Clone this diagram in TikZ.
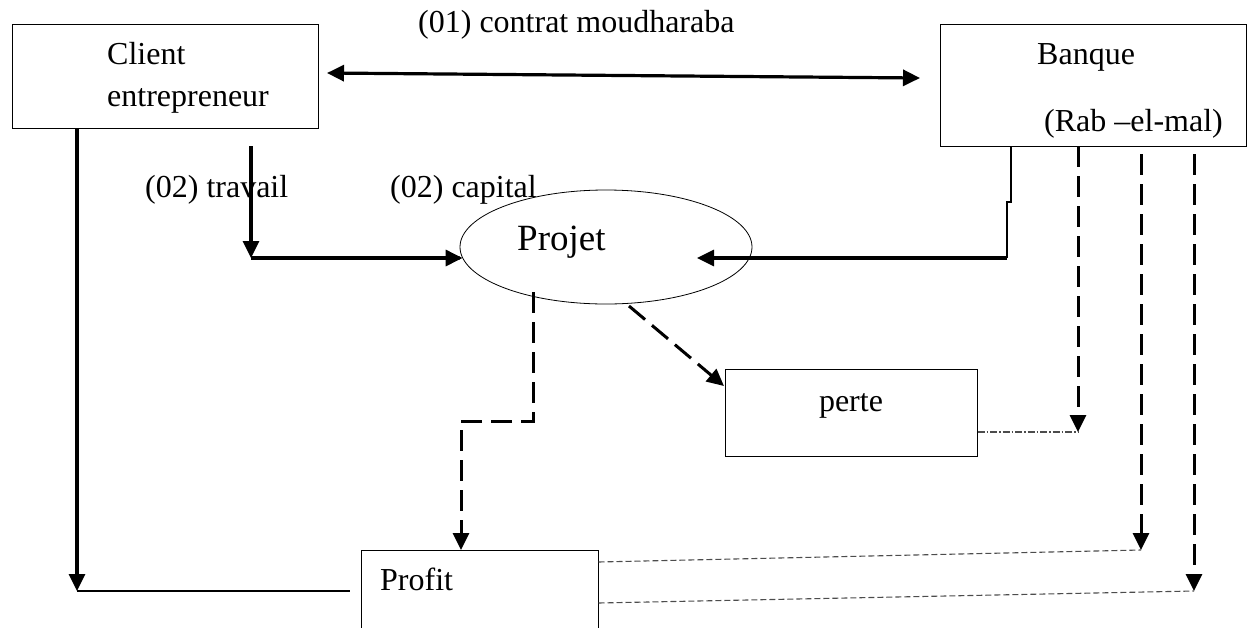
\documentclass[tikz,border=0pt]{standalone}
\usepackage{fontspec}
\setmainfont{Liberation Serif}
\usetikzlibrary{arrows.meta,shapes.geometric}
\begin{document}
\begin{tikzpicture}[x=1pt,y=-1pt,
  box/.style={draw, line width=1pt, inner sep=0pt, rectangle},
  lbl/.style={inner sep=0pt, anchor=base west, font=\fontsize{32}{42}\selectfont},
  tip/.style={-{Triangle[length=17pt,width=16pt]}},
  biarrow/.style={{Triangle[length=17pt,width=16pt]}-{Triangle[length=17pt,width=16pt]}},
  heavy/.style={line width=3.2pt},
  thin/.style={line width=1.4pt},
  dashflow/.style={line width=3pt, dash pattern=on 21pt off 9pt},
  share/.style={line width=1.1pt, draw=black!70, dash pattern=on 6pt off 3pt},
  lossline/.style={line width=1.1pt, draw=black!70, dash pattern=on 7pt off 2pt on 1.5pt off 2pt}]
\useasboundingbox (0,0) rectangle (1248,627);
\clip (0,0) rectangle (1248,627);

% parties
\node[box, minimum width=306pt, minimum height=104pt] (client) at (165,76) {};
\node[lbl] (clientlbl) at (107,64) {Client};
\node[lbl] (entrlbl) at (107,106) {entrepreneur};

\node[box, minimum width=306.5pt, minimum height=122pt] (banque) at (1093.25,85) {};
\node[lbl] (banquelbl) at (1037,64) {Banque};
\node[lbl] (rablbl) at (1044,131) {(Rab --el-mal)};

% project and outcomes
\node[draw, ellipse, line width=0.8pt, minimum width=292pt, minimum height=114pt, inner sep=0pt] (projet) at (606,247) {};
\node[inner sep=0pt, anchor=base west, font=\fontsize{37}{44}\selectfont] (projetlbl) at (517,250) {Projet};

\node[box, minimum width=252pt, minimum height=87pt] (perte) at (851,412.5) {};
\node[lbl, anchor=base] (pertelbl) at (851,411) {perte};

\node[box, minimum width=237pt, minimum height=150pt] (profit) at (479.5,625) {};
\node[lbl] (profitlbl) at (380,590) {Profit};

% labels of the flows
\node[lbl] (contratlbl) at (418,32) {(01) contrat moudharaba};
\node[lbl] (travaillbl) at (145,197) {(02) travail};
\node[lbl] (capitallbl) at (390,197) {(02) capital};

% (01) contract between the two parties
\coordinate (cL) at (327,73);
\coordinate (cR) at (920,78);
\draw[heavy, biarrow] (cL) -- (cR);

% (02) work brought by the entrepreneur
\coordinate (tTop) at (251,146);
\coordinate (tBend) at (251,258);
\draw[heavy, tip] (tTop) -- (tBend);
\draw[heavy, tip] (tBend) -- (projet.west |- 0,258) -- +(3,0);

% (02) capital brought by the bank
\coordinate (bTop) at (1011,146);
\coordinate (bStep) at (1007,202);
\coordinate (bBend) at (1007,258);
\draw[thin] (bTop) -- (1011,202) -- (bStep) -- (bBend);
\draw[heavy, tip] (bBend) -- (697,258);

% the entrepreneur's share of the profit
\coordinate (eTop) at (77,128);
\coordinate (eBend) at (77,591);
\coordinate (eEnd) at (350,591);
\draw[heavy, tip] (eTop) -- (eBend);
\draw[thin] (eBend) -- (eEnd);

% results of the project
\coordinate (pStart) at (533,292);
\draw[dashflow, tip] (pStart) -- (533,421) -- (461,421) -- (461,550);
\coordinate (lStart) at (629,306);
\draw[dashflow, tip] (lStart) -- (724,386);

% bank side: loss and profit shares
\coordinate (k1) at (1078,146);
\coordinate (k1e) at (1078,432);
\coordinate (k2) at (1141,154);
\coordinate (k2e) at (1141,550);
\coordinate (k3) at (1194,154);
\coordinate (k3e) at (1194,591);
\draw[dashflow, tip] (k1) -- (k1e);
\draw[dashflow, tip] (k2) -- (k2e);
\draw[dashflow, tip] (k3) -- (k3e);

\draw[lossline] (perte.east |- 0,432) -- (k1e);
\draw[share] (profit.east |- 0,562) -- (k2e);
\draw[share] (profit.east |- 0,603) -- (k3e);
\end{tikzpicture}
\end{document}
